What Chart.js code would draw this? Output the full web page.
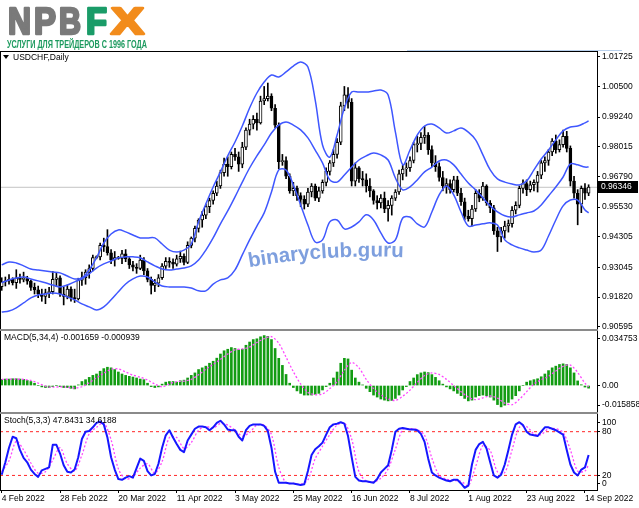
<!DOCTYPE html>
<html lang="ru">
<head>
<meta charset="utf-8">
<title>USDCHF, Daily</title>
<script src="https://cdn.jsdelivr.net/npm/chart.js@4.4.1/dist/chart.umd.min.js"></script>
<style>
  html, body { margin: 0; padding: 0; background: #fff; }
  #wrap { position: relative; width: 639px; height: 508px; overflow: hidden; background: #fff; }
  #wrap canvas { position: absolute; left: 0; }
</style>
</head>
<body>
<div id="wrap">
  <canvas id="logo" width="639" height="50" style="top:0"></canvas>
  <canvas id="cMain" width="639" height="292" style="top:44px"></canvas>
  <canvas id="cMacd" width="639" height="92" style="top:325px"></canvas>
  <canvas id="cStoch" width="639" height="98" style="top:410px"></canvas>
  <canvas id="deco" width="639" height="508" style="top:0;pointer-events:none"></canvas>
</div>
<script>
'use strict';
// USDCHF D1 — świece + Bollinger, MACD(5,34,4), Stoch(5,3,3)

// ---------- dane ----------
const dateLabels = ['4 Feb 2022', '28 Feb 2022', '20 Mar 2022', '11 Apr 2022', '3 May 2022', '25 May 2022',
  '16 Jun 2022', '8 Jul 2022', '1 Aug 2022', '23 Aug 2022', '14 Sep 2022'];
const dateTicks = [0, 16, 32, 48, 64, 80, 96, 112, 128, 144, 160];
const priceTicks = [1.01725, 1.00500, 0.99240, 0.98015, 0.96790, 0.95530, 0.94305, 0.93045, 0.91820, 0.90595];
const BID = 0.96346;

const opens = [
  0.9225,0.9245,0.9248,0.9255,0.9242,0.9262,0.9255,0.9258,0.9248,0.9222,
  0.9212,0.9195,0.9185,0.9200,0.9205,0.9255,0.9262,0.9195,0.9185,0.9215,
  0.9180,0.9175,0.9252,0.9262,0.9285,0.9300,0.9345,0.9348,0.9395,0.9390,
  0.9365,0.9335,0.9345,0.9342,0.9360,0.9340,0.9315,0.9305,0.9300,0.9335,
  0.9290,0.9255,0.9230,0.9240,0.9262,0.9310,0.9330,0.9325,0.9318,0.9340,
  0.9350,0.9325,0.9395,0.9425,0.9465,0.9500,0.9520,0.9555,0.9580,0.9610,
  0.9640,0.9695,0.9730,0.9720,0.9770,0.9760,0.9730,0.9800,0.9870,0.9895,
  0.9915,0.9900,0.9990,1.0000,1.0010,0.9960,0.9890,0.9740,0.9745,0.9680,
  0.9620,0.9630,0.9600,0.9585,0.9565,0.9615,0.9640,0.9590,0.9620,0.9655,
  0.9700,0.9735,0.9770,0.9820,0.9970,1.0015,0.9985,0.9660,0.9715,0.9670,
  0.9665,0.9640,0.9620,0.9580,0.9570,0.9590,0.9545,0.9560,0.9590,0.9615,
  0.9690,0.9710,0.9715,0.9745,0.9810,0.9815,0.9840,0.9850,0.9790,0.9735,
  0.9720,0.9675,0.9640,0.9650,0.9625,0.9665,0.9610,0.9575,0.9515,0.9505,
  0.9545,0.9610,0.9590,0.9640,0.9570,0.9550,0.9455,0.9430,0.9455,0.9475,
  0.9485,0.9540,0.9560,0.9630,0.9650,0.9625,0.9645,0.9655,0.9685,0.9735,
  0.9745,0.9780,0.9825,0.9790,0.9810,0.9845,0.9795,0.9660,0.9610,0.9565,
  0.9630,0.9610];
const highs = [
  0.9262,0.9265,0.9275,0.9262,0.9295,0.9277,0.9285,0.9268,0.9252,0.9240,
  0.9228,0.9215,0.9215,0.9222,0.9288,0.9280,0.9270,0.9225,0.9232,0.9225,
  0.9215,0.9260,0.9285,0.9295,0.9315,0.9355,0.9352,0.9405,0.9425,0.9460,
  0.9378,0.9370,0.9350,0.9375,0.9378,0.9345,0.9330,0.9320,0.9355,0.9345,
  0.9300,0.9265,0.9255,0.9275,0.9320,0.9345,0.9345,0.9340,0.9355,0.9372,
  0.9360,0.9410,0.9430,0.9475,0.9505,0.9535,0.9565,0.9590,0.9620,0.9660,
  0.9705,0.9755,0.9760,0.9780,0.9795,0.9780,0.9820,0.9880,0.9915,0.9930,
  0.9940,1.0010,1.0050,1.0064,1.0020,0.9975,0.9900,0.9770,0.9760,0.9690,
  0.9655,0.9640,0.9612,0.9600,0.9630,0.9650,0.9648,0.9635,0.9665,0.9715,
  0.9745,0.9790,0.9835,0.9985,1.0050,1.0045,1.0000,0.9735,0.9720,0.9700,
  0.9690,0.9670,0.9625,0.9600,0.9605,0.9615,0.9580,0.9600,0.9625,0.9705,
  0.9725,0.9735,0.9760,0.9820,0.9845,0.9860,0.9886,0.9860,0.9805,0.9765,
  0.9735,0.9700,0.9670,0.9665,0.9680,0.9680,0.9630,0.9590,0.9540,0.9560,
  0.9625,0.9625,0.9655,0.9645,0.9580,0.9560,0.9470,0.9470,0.9495,0.9500,
  0.9555,0.9575,0.9640,0.9665,0.9665,0.9660,0.9665,0.9700,0.9745,0.9760,
  0.9790,0.9835,0.9850,0.9830,0.9870,0.9865,0.9805,0.9680,0.9625,0.9640,
  0.9650,0.9645];
const lows = [
  0.9210,0.9228,0.9235,0.9232,0.9218,0.9240,0.9245,0.9235,0.9210,0.9195,
  0.9180,0.9165,0.9155,0.9180,0.9195,0.9225,0.9185,0.9150,0.9175,0.9165,
  0.9160,0.9170,0.9230,0.9235,0.9260,0.9290,0.9340,0.9335,0.9370,0.9355,
  0.9320,0.9310,0.9338,0.9320,0.9328,0.9300,0.9290,0.9280,0.9295,0.9275,
  0.9245,0.9195,0.9205,0.9225,0.9255,0.9300,0.9305,0.9300,0.9310,0.9325,
  0.9315,0.9320,0.9385,0.9410,0.9450,0.9470,0.9505,0.9530,0.9565,0.9600,
  0.9630,0.9680,0.9680,0.9710,0.9745,0.9700,0.9715,0.9790,0.9850,0.9875,
  0.9870,0.9895,0.9975,0.9990,0.9950,0.9880,0.9710,0.9725,0.9670,0.9610,
  0.9600,0.9580,0.9555,0.9545,0.9555,0.9595,0.9580,0.9575,0.9610,0.9640,
  0.9685,0.9720,0.9755,0.9810,0.9950,0.9960,0.9640,0.9640,0.9655,0.9640,
  0.9615,0.9595,0.9565,0.9545,0.9550,0.9530,0.9495,0.9520,0.9580,0.9605,
  0.9665,0.9680,0.9700,0.9735,0.9780,0.9790,0.9815,0.9770,0.9720,0.9700,
  0.9660,0.9620,0.9610,0.9610,0.9615,0.9600,0.9560,0.9500,0.9495,0.9475,
  0.9535,0.9575,0.9580,0.9560,0.9530,0.9440,0.9370,0.9410,0.9425,0.9450,
  0.9470,0.9525,0.9550,0.9610,0.9600,0.9615,0.9620,0.9615,0.9670,0.9700,
  0.9725,0.9765,0.9775,0.9780,0.9800,0.9780,0.9640,0.9590,0.9480,0.9530,
  0.9585,0.9600];
const closes = [
  0.9245,0.9248,0.9255,0.9242,0.9262,0.9255,0.9258,0.9248,0.9222,0.9212,
  0.9195,0.9185,0.9200,0.9205,0.9255,0.9262,0.9195,0.9185,0.9215,0.9180,
  0.9175,0.9252,0.9262,0.9285,0.9300,0.9345,0.9348,0.9395,0.9390,0.9365,
  0.9335,0.9345,0.9342,0.9360,0.9340,0.9315,0.9305,0.9300,0.9335,0.9290,
  0.9255,0.9230,0.9240,0.9262,0.9310,0.9330,0.9325,0.9318,0.9340,0.9350,
  0.9325,0.9395,0.9425,0.9465,0.9500,0.9520,0.9555,0.9580,0.9610,0.9640,
  0.9695,0.9730,0.9720,0.9770,0.9760,0.9730,0.9800,0.9870,0.9895,0.9915,
  0.9900,0.9990,1.0000,1.0010,0.9960,0.9890,0.9740,0.9745,0.9680,0.9620,
  0.9630,0.9600,0.9585,0.9565,0.9615,0.9640,0.9590,0.9620,0.9655,0.9700,
  0.9735,0.9770,0.9820,0.9970,1.0015,0.9985,0.9660,0.9715,0.9670,0.9665,
  0.9640,0.9620,0.9580,0.9570,0.9590,0.9545,0.9560,0.9590,0.9615,0.9690,
  0.9710,0.9715,0.9745,0.9810,0.9815,0.9840,0.9850,0.9790,0.9735,0.9720,
  0.9675,0.9640,0.9650,0.9625,0.9665,0.9610,0.9575,0.9515,0.9505,0.9545,
  0.9610,0.9590,0.9640,0.9570,0.9550,0.9455,0.9430,0.9455,0.9475,0.9485,
  0.9540,0.9560,0.9630,0.9650,0.9625,0.9645,0.9655,0.9685,0.9735,0.9745,
  0.9780,0.9825,0.9790,0.9810,0.9845,0.9795,0.9660,0.9610,0.9565,0.9630,
  0.9610,0.9635];

// wstęgi, sygnały: co drugi słupek (0,2,...,160) + ostatni 161
const bbUpper = [
  0.9315,0.9327,0.9323,0.9311,0.9298,0.9294,0.9290,0.9286,0.9282,0.9269,
  0.9257,0.9261,0.9294,0.9344,0.9405,0.9442,0.9459,0.9451,0.9438,0.9426,
  0.9426,0.9426,0.9401,0.9376,0.9368,0.9376,0.9401,0.9492,0.9566,0.9636,
  0.9698,0.9764,0.9821,0.9887,0.9961,1.0023,1.0068,1.0097,1.0089,1.0110,
  1.0134,1.0151,1.0130,0.9994,0.9809,0.9759,0.9850,0.9961,1.0027,1.0027,
  1.0027,1.0031,1.0035,1.0015,0.9862,0.9727,0.9788,0.9850,0.9887,0.9895,
  0.9879,0.9858,0.9867,0.9879,0.9862,0.9830,0.9768,0.9706,0.9669,0.9656,
  0.9648,0.9644,0.9661,0.9706,0.9751,0.9788,0.9830,0.9867,0.9883,0.9887,
  0.9900,0.9908];
const bbMiddle = [
  0.9241,0.9253,0.9261,0.9265,0.9257,0.9249,0.9241,0.9232,0.9224,0.9232,
  0.9245,0.9257,0.9278,0.9302,0.9319,0.9331,0.9344,0.9348,0.9348,0.9344,
  0.9327,0.9311,0.9298,0.9294,0.9298,0.9302,0.9311,0.9335,0.9376,0.9426,
  0.9484,0.9537,0.9595,0.9656,0.9714,0.9764,0.9809,0.9858,0.9891,0.9904,
  0.9891,0.9871,0.9838,0.9788,0.9735,0.9665,0.9656,0.9685,0.9718,0.9747,
  0.9764,0.9776,0.9768,0.9747,0.9673,0.9624,0.9636,0.9665,0.9698,0.9718,
  0.9743,0.9747,0.9727,0.9689,0.9652,0.9624,0.9591,0.9558,0.9533,0.9517,
  0.9512,0.9521,0.9529,0.9537,0.9562,0.9599,0.9636,0.9677,0.9731,0.9727,
  0.9718,0.9718];
const bbLower = [
  0.9121,0.9125,0.9138,0.9158,0.9179,0.9191,0.9195,0.9199,0.9195,0.9183,
  0.9171,0.9154,0.9142,0.9129,0.9142,0.9171,0.9204,0.9236,0.9257,0.9269,
  0.9265,0.9245,0.9228,0.9224,0.9224,0.9224,0.9220,0.9208,0.9208,0.9236,
  0.9253,0.9261,0.9294,0.9356,0.9418,0.9475,0.9529,0.9615,0.9706,0.9706,
  0.9644,0.9562,0.9479,0.9409,0.9418,0.9492,0.9500,0.9463,0.9471,0.9492,
  0.9521,0.9500,0.9447,0.9405,0.9418,0.9508,0.9512,0.9484,0.9471,0.9533,
  0.9603,0.9640,0.9603,0.9533,0.9475,0.9479,0.9484,0.9488,0.9479,0.9418,
  0.9397,0.9385,0.9376,0.9368,0.9376,0.9434,0.9500,0.9558,0.9582,0.9582,
  0.9541,0.9529];

const macdHist = [
  0.0040,0.0042,0.0042,0.0044,0.0044,0.0042,0.0040,0.0033,0.0026,0.0015,
  0.0000,-0.0009,-0.0013,-0.0013,-0.0007,0.0000,-0.0007,-0.0013,-0.0013,-0.0018,
  -0.0022,0.0004,0.0026,0.0038,0.0053,0.0066,0.0075,0.0093,0.0110,0.0119,
  0.0115,0.0104,0.0088,0.0075,0.0066,0.0060,0.0055,0.0049,0.0042,0.0038,
  0.0015,-0.0007,-0.0013,-0.0009,0.0009,0.0022,0.0026,0.0026,0.0022,0.0031,
  0.0035,0.0049,0.0066,0.0082,0.0104,0.0115,0.0126,0.0145,0.0158,0.0178,
  0.0205,0.0226,0.0236,0.0247,0.0241,0.0232,0.0236,0.0262,0.0283,0.0299,
  0.0304,0.0317,0.0325,0.0320,0.0299,0.0241,0.0177,0.0131,0.0072,0.0015,
  -0.0013,-0.0035,-0.0051,-0.0062,-0.0062,-0.0062,-0.0057,-0.0051,-0.0029,-0.0007,
  0.0015,0.0049,0.0088,0.0145,0.0177,0.0173,0.0100,0.0049,0.0022,0.0004,
  -0.0018,-0.0040,-0.0062,-0.0075,-0.0088,-0.0095,-0.0100,-0.0097,-0.0084,-0.0062,
  -0.0029,-0.0007,0.0026,0.0049,0.0071,0.0082,0.0088,0.0084,0.0071,0.0053,
  0.0031,0.0009,-0.0009,-0.0022,-0.0035,-0.0051,-0.0066,-0.0084,-0.0100,-0.0095,
  -0.0075,-0.0066,-0.0062,-0.0066,-0.0075,-0.0095,-0.0124,-0.0139,-0.0128,-0.0110,
  -0.0088,-0.0066,-0.0035,0.0000,0.0022,0.0031,0.0038,0.0044,0.0057,0.0075,
  0.0097,0.0115,0.0126,0.0137,0.0141,0.0137,0.0115,0.0082,0.0030,0.0005,
  -0.0010,-0.0017];
const macdSignal = [
  0.0040,0.0041,0.0041,0.0040,0.0033,0.0016,-0.0004,-0.0011,-0.0008,-0.0011,
  -0.0016,-0.0008,0.0018,0.0050,0.0080,0.0106,0.0108,0.0088,0.0068,0.0054,
  0.0036,0.0010,-0.0008,0.0010,0.0025,0.0028,0.0040,0.0070,0.0105,0.0138,
  0.0170,0.0205,0.0232,0.0238,0.0250,0.0280,0.0305,0.0318,0.0275,0.0185,
  0.0090,0.0010,-0.0045,-0.0060,-0.0055,-0.0020,0.0025,0.0100,0.0150,0.0115,
  0.0040,-0.0020,-0.0060,-0.0088,-0.0097,-0.0070,-0.0030,0.0020,0.0065,0.0082,
  0.0072,0.0040,0.0000,-0.0040,-0.0075,-0.0092,-0.0080,-0.0068,-0.0082,-0.0115,
  -0.0125,-0.0090,-0.0040,0.0010,0.0038,0.0060,0.0095,0.0125,0.0133,0.0085,
  0.0015,-0.0009];

const stochMain = [
  21,38,58,73,71,55,44,38,28,22,
  18,27,29,31,62,62,50,34,25,24,
  28,45,70,80,81,86,92,94,90,72,
  45,28,15,14,17,19,17,30,43,40,
  26,20,22,36,58,75,82,72,63,55,
  52,68,76,84,87,87,86,82,86,92,
  95,90,83,82,82,73,68,82,88,90,
  90,90,88,81,58,25,10,10,10,9,
  9,8,7,8,26,48,56,60,65,76,
  86,90,91,93,91,74,45,18,13,12,
  12,11,10,15,24,29,34,55,80,84,
  85,84,83,83,82,77,66,43,24,20,
  17,15,13,12,14,14,9,3,6,35,
  55,63,66,57,38,20,17,21,35,55,
  76,90,93,89,80,76,75,74,80,86,
  86,84,82,79,76,55,35,24,20,28,
  31,48];
const stochSignal = [
  25,40,67,55,37,23,25,41,58,36,
  26,48,77,86,92,69,29,15,18,30,
  36,23,39,72,72,57,65,82,87,85,
  91,89,82,74,79,89,89,76,31,10,
  9,8,14,43,60,76,89,92,70,25,
  12,11,16,29,56,83,84,83,75,44,
  20,15,13,12,6,32,61,54,25,24,
  55,86,87,77,76,84,84,79,55,26,
  26,35];
const stochLevels = [80, 20];

// ---------- pomocnicze ----------
const FONT = '"Liberation Sans", Arial, sans-serif';
const XMIN = -0.47, XMAX = 163.3;
const idx = closes.map((_, i) => i);
const halfIdx = [];
for (let i = 0; i <= 160; i += 2) halfIdx.push(i);
halfIdx.push(161);
const pts = (xs, ys) => ys.map((v, k) => ({ x: xs[k], y: v }));

Chart.defaults.font.family = FONT;
Chart.defaults.font.size = 8.5;
Chart.defaults.color = '#000';

const base = {
  responsive: false, animation: false, devicePixelRatio: 1, events: [],
  plugins: { legend: { display: false }, tooltip: { enabled: false } },
};
const xHidden = { type: 'linear', min: XMIN, max: XMAX, offset: false, display: false, grid: { offset: false } };
function yRight(min, max, tickVals, fmt) {
  return {
    type: 'linear', position: 'right', min, max, beginAtZero: false,
    afterFit: s => { s.width = 42; },
    afterBuildTicks: s => { s.ticks = tickVals.map(v => ({ value: v })); },
    ticks: { callback: fmt, padding: 2, autoSkip: false, color: '#000', font: { size: 8.5 } },
    grid: { drawOnChartArea: false, drawTicks: true, tickLength: 3, color: '#000' },
    border: { display: true, color: '#000' },
  };
}
function label(id, draw) {
  return { id, afterDraw: c => { const ctx = c.ctx; ctx.save(); ctx.font = `8.5px ${FONT}`;
    ctx.fillStyle = '#000'; ctx.textBaseline = 'middle'; draw(ctx, c); ctx.restore(); } };
}

// ---------- okno główne ----------
const wicks = idx.map(i => ({ x: i, y: [lows[i], highs[i]] }));
const bodies = idx.map(i => ({ x: i, y: [Math.min(opens[i], closes[i]), Math.max(opens[i], closes[i])] }));
const bodyFill = idx.map(i => closes[i] >= opens[i] ? '#ffffff' : '#000000');
const band = vals => ({ type: 'line', data: pts(halfIdx, vals), borderColor: '#3f57ff', borderWidth: 1.5,
  pointRadius: 0, tension: 0.35, order: 1 });

new Chart(document.getElementById('cMain'), {
  type: 'bar',
  data: { datasets: [
    { type: 'line', data: [{ x: XMIN, y: BID }, { x: XMAX, y: BID }], borderColor: '#c4c4c4',
      borderWidth: 1, pointRadius: 0, order: 10 },
    { data: wicks, backgroundColor: '#000', barThickness: 1, grouped: false, minBarLength: 1, order: 9 },
    { data: bodies, backgroundColor: bodyFill, borderColor: '#000', borderWidth: 1, borderSkipped: false,
      barThickness: 3, grouped: false, minBarLength: 1, order: 8 },
    band(bbUpper), band(bbMiddle), band(bbLower),
  ] },
  options: { ...base,
    layout: { padding: { top: 8, bottom: 7, left: 0, right: 0 } },
    scales: { x: xHidden, y: yRight(0.90512, 1.01919, priceTicks, v => v.toFixed(5)) } },
  plugins: [label('mainTxt', (ctx, c) => {
    ctx.beginPath(); ctx.moveTo(3, 11); ctx.lineTo(9, 11); ctx.lineTo(6, 15); ctx.closePath(); ctx.fill();
    ctx.fillText('USDCHF,Daily', 13, 13.5);
    const y = Math.round(c.scales.y.getPixelForValue(BID));
    ctx.fillRect(598, y - 6, 40, 12);
    ctx.fillStyle = '#fff';
    ctx.fillText(BID.toFixed(5), 601, y);
  })],
});

// ---------- MACD ----------
const macdTickVals = [0.0303, 0, -0.0127];
const macdTickText = ['0.034753', '0.00', '-0.015858'];
new Chart(document.getElementById('cMacd'), {
  type: 'bar',
  data: { datasets: [
    { type: 'line', data: pts(halfIdx, macdSignal), borderColor: '#ff45ff', borderWidth: 1.3,
      borderDash: [2, 2], pointRadius: 0, tension: 0.3, order: 1 },
    { data: pts(idx, macdHist), backgroundColor: '#129c12', barThickness: 2, grouped: false, order: 2 },
  ] },
  options: { ...base,
    layout: { padding: { top: 6, bottom: 6, left: 0, right: 0 } },
    scales: { x: xHidden, y: yRight(-0.015858, 0.034753, macdTickVals, (v, k) => macdTickText[k]) } },
  plugins: [label('macdTxt', ctx => ctx.fillText('MACD(5,34,4) -0.001659 -0.000939', 4, 13))],
});

// ---------- Stochastic ----------
const stochTickVals = [93, 80, 20, 9];
const stochTickText = ['100', '80', '20', '0'];
new Chart(document.getElementById('cStoch'), {
  type: 'line',
  data: { datasets: [
    ...stochLevels.map(l => ({ data: [{ x: XMIN, y: l }, { x: XMAX, y: l }], borderColor: '#ff2626',
      borderWidth: 1, borderDash: [3, 3], pointRadius: 0, order: 3 })),
    { data: pts(halfIdx, stochSignal), borderColor: '#ff45ff', borderWidth: 1.3, borderDash: [2, 2],
      pointRadius: 0, tension: 0.3, order: 2 },
    { data: pts(idx, stochMain), borderColor: '#1616ff', borderWidth: 2, pointRadius: 0,
      borderJoinStyle: 'round', order: 1 },
  ] },
  options: { ...base,
    layout: { padding: { top: 6, bottom: 0, left: 0, right: 0 } },
    scales: {
      x: { type: 'linear', min: XMIN, max: XMAX, offset: false, position: 'bottom',
        afterBuildTicks: s => { s.ticks = dateTicks.map(v => ({ value: v })); },
        afterFit: s => { s.height = 18; },
        ticks: { callback: (v, k) => dateLabels[k], align: 'start', padding: 1, autoSkip: false,
          maxRotation: 0, minRotation: 0, color: '#000', font: { size: 8.5 } },
        grid: { drawOnChartArea: false, drawTicks: true, tickLength: 3, color: '#000', offset: false },
        border: { display: true, color: '#000' } },
      y: yRight(0, 100, stochTickVals, (v, k) => stochTickText[k]),
    } },
  plugins: [label('stochTxt', ctx => ctx.fillText('Stoch(5,3,3) 47.8431 34.6188', 4, 11))],
});

// ---------- logo ----------
(function drawLogo() {
  const ctx = document.getElementById('logo').getContext('2d');
  ctx.font = `bold 37px ${FONT}`;
  ctx.lineJoin = 'round';
  const letter = (ch, x, w, col) => {
    const m = ctx.measureText(ch).width;
    ctx.save(); ctx.translate(x + 1, 34); ctx.scale((w - 2) / m, 1);
    ctx.fillStyle = col; ctx.strokeStyle = col; ctx.lineWidth = 2.6;
    ctx.fillText(ch, 0, 0); ctx.strokeText(ch, 0, 0); ctx.restore();
  };
  letter('N', 7, 25, '#7a7a7a');
  letter('P', 33, 24, '#7a7a7a');
  letter('B', 58, 24, '#7a7a7a');
  letter('F', 85, 23, '#1a9c68');
  letter('X', 110, 35, '#f28c1c');
  ctx.font = `bold 10px ${FONT}`;
  const sub = 'УСЛУГИ ДЛЯ ТРЕЙДЕРОВ С 1996 ГОДА';
  const sw = ctx.measureText(sub).width;
  ctx.save(); ctx.translate(7, 48); ctx.scale(140 / sw, 1); ctx.fillStyle = '#1c9a5e'; ctx.fillText(sub, 0, 0); ctx.restore();
})();

// ---------- ramki, separatory, znak wodny ----------
(function drawDeco() {
  const ctx = document.getElementById('deco').getContext('2d');
  ctx.strokeStyle = '#b8d0ec'; ctx.lineWidth = 1;
  ctx.beginPath(); ctx.moveTo(407, 50.5); ctx.lineTo(622, 50.5); ctx.stroke();
  ctx.strokeStyle = '#000';
  ctx.beginPath();
  ctx.moveTo(0, 51.5); ctx.lineTo(598, 51.5);
  ctx.moveTo(0.5, 51.5); ctx.lineTo(0.5, 490);
  ctx.moveTo(597.5, 51.5); ctx.lineTo(597.5, 490);
  ctx.stroke();
  ctx.fillStyle = '#8a8a8a';
  ctx.fillRect(0, 329, 598, 2);
  ctx.fillRect(0, 412, 598, 2);

  const txt = 'binaryclub.guru';
  ctx.font = `bold 20.5px ${FONT}`;
  ctx.fillStyle = 'rgba(112,149,218,0.9)';
  ctx.textAlign = 'center';
  const total = ctx.measureText(txt).width;
  const R = 700, tilt = -0.065, mx = 326, my = 258;
  const cx = mx - R * Math.sin(tilt), cy = my + R * Math.cos(tilt);
  let s = -total / 2;
  for (const ch of txt) {
    const w = ctx.measureText(ch).width;
    const a = (s + w / 2) / R + tilt;
    ctx.save();
    ctx.translate(cx + R * Math.sin(a), cy - R * Math.cos(a));
    ctx.rotate(a);
    ctx.fillText(ch, 0, 0);
    ctx.restore();
    s += w;
  }
})();
</script>
</body>
</html>
